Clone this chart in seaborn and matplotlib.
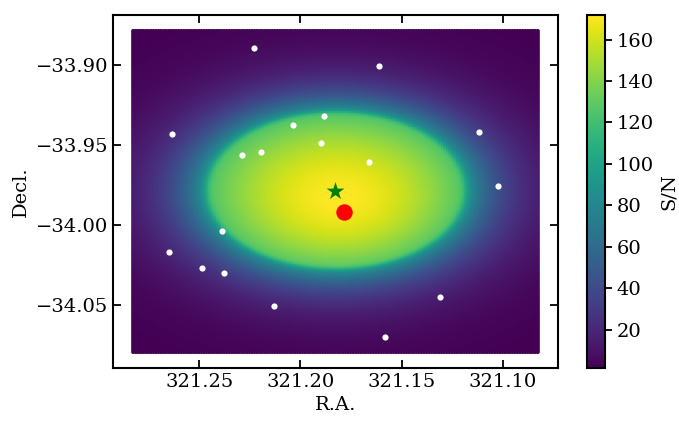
import numpy as np
import matplotlib.pyplot as plt
import seaborn as sns

# pointing centre (green star) and target (red dot)
star_ra, star_dec = 321.1827, -33.979
target_ra, target_dec = 321.1787, -33.9916

# other sources (white dots)
src_ra = [321.2231, 321.1613, 321.2633, 321.2289, 321.2194, 321.2035,
          321.1885, 321.1900, 321.1661, 321.1119, 321.1024, 321.2389,
          321.2648, 321.2489, 321.2379, 321.1309, 321.2131, 321.1583]
src_dec = [-33.8897, -33.9008, -33.9433, -33.9565, -33.9546, -33.9376,
           -33.9319, -33.9489, -33.9609, -33.9420, -33.9754, -34.0038,
           -34.0170, -34.0265, -34.0296, -34.0446, -34.0503, -34.0694]

# S/N map parameters
map_dec_c = -33.9777           # centre of the bright disc
edge_ra, edge_dec = 0.066, 0.0505   # semi-axes of the teal edge (deg)
sn_centre = 161.0              # inner plateau
sn_inner_drop = 42.0           # fall from centre to edge inside the disc
sn_edge = 85.0                 # value just outside the edge
sn_tail = 0.30                 # e-folding of the outer wing (in edge radii)
edge_pos, edge_width = 0.965, 0.015
bump_amp, bump_sigma = 11.0, 0.025   # brighter spot around the target
sn_floor = 1.0
half_size = 0.1
n_grid = 161

ra_1d = np.linspace(star_ra - half_size, star_ra + half_size, n_grid)
dec_1d = np.linspace(star_dec - half_size, star_dec + half_size, n_grid)
ra_g, dec_g = np.meshgrid(ra_1d, dec_1d)
r = np.hypot((ra_g - star_ra) / edge_ra, (dec_g - map_dec_c) / edge_dec)
cosd = np.cos(np.deg2rad(star_dec))
rb = np.hypot((ra_g - target_ra) * cosd, dec_g - target_dec)

inner = sn_centre - sn_inner_drop * r ** 2 \
    + bump_amp * np.exp(-rb ** 2 / (2 * bump_sigma ** 2))
outer = sn_edge * np.exp(-(r - 1) / sn_tail)
w = 1 / (1 + np.exp(-(r - edge_pos) / edge_width))
sn = sn_floor + inner * (1 - w) + outer * w

sn_min, sn_max = sn.min(), sn.max()

sns.set_style('ticks', {'axes.edgecolor': 'black', 'xtick.color': 'black',
                        'ytick.color': 'black', 'text.color': 'black',
                        'axes.labelcolor': 'black'})
plt.rcParams['font.family'] = ['DejaVu Serif']

fig = plt.figure(figsize=(6.79, 4.21), dpi=100)
ax = fig.add_axes([0.1664, 0.1259, 0.6554, 0.8385])

sns.scatterplot(x=ra_g.ravel(), y=dec_g.ravel(), hue=sn.ravel(),
                palette='viridis', hue_norm=(sn_min, sn_max),
                s=9, linewidth=0, legend=False, ax=ax)
sns.scatterplot(x=src_ra, y=src_dec, color='white', s=20, linewidth=0, ax=ax)
sns.scatterplot(x=[star_ra], y=[star_dec], color='green', marker='*', s=180,
                linewidth=0, ax=ax)
sns.scatterplot(x=[target_ra], y=[target_dec], color='red', s=140,
                linewidth=0, ax=ax)

ax.invert_xaxis()
ax.ticklabel_format(useOffset=False)
ax.set_xticks([321.25, 321.20, 321.15, 321.10])
ax.set_yticks([-33.90, -33.95, -34.00, -34.05])
ax.tick_params(direction='in', top=True, right=True, length=6, width=1.3,
               labelsize=14)
for sp in ax.spines.values():
    sp.set_linewidth(1.5)
ax.set_xlabel('R.A.', fontsize=14)
ax.set_ylabel('Decl.', fontsize=14)

cax = fig.add_axes([0.8645, 0.1259, 0.0265, 0.8385])
sm = plt.cm.ScalarMappable(norm=plt.Normalize(sn_min, sn_max), cmap='viridis')
cb = fig.colorbar(sm, cax=cax)
cb.set_ticks([20, 40, 60, 80, 100, 120, 140, 160])
cb.ax.tick_params(labelsize=14, length=5, width=1.3)
cb.outline.set_linewidth(1.5)
cb.set_label('S/N', fontsize=14)

fig.savefig('out.png', dpi=100)
